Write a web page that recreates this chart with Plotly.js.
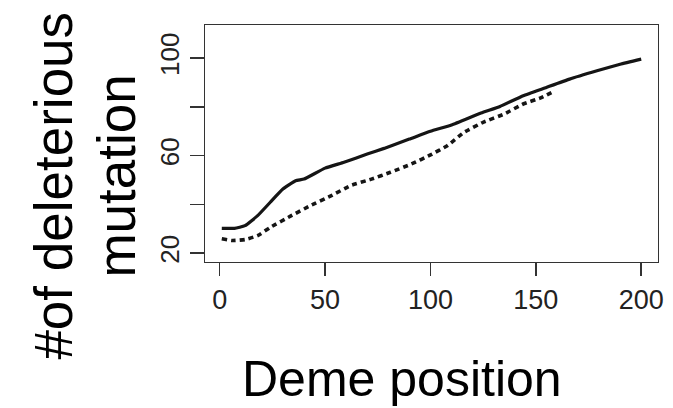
<!DOCTYPE html>
<html>
<head>
<meta charset="utf-8">
<script src="https://cdn.plot.ly/plotly-3.0.1.min.js"></script>
<style>html,body{margin:0;padding:0;background:#fff;}#chart{width:673px;height:408px;}</style>
</head>
<body>
<div id="chart"></div>
<script>
// Solid series: deme position vs mean # of deleterious mutations
var solidX = [1, 7, 12, 18, 24, 30, 36, 40, 50, 59, 70, 78, 90, 100, 110, 124, 133, 144, 155, 166, 179, 190, 200];
var solidY = [30.2, 30.2, 31.3, 35.4, 40.9, 46.3, 49.7, 50.4, 54.9, 57.3, 60.7, 63.0, 66.8, 70.0, 72.6, 77.5, 80.2, 84.6, 88.0, 91.4, 94.8, 97.5, 99.6];
// Dotted series
var dotX = [1, 6, 12, 18, 24, 34, 43, 53, 62, 72, 81, 91, 100, 108, 116, 125, 135, 144, 152, 159];
var dotY = [25.9, 25.2, 25.6, 27.2, 30.6, 35.4, 39.5, 43.6, 47.7, 50.4, 53.2, 56.6, 60.3, 64.1, 69.6, 73.7, 77.1, 81.2, 83.6, 86.6];
var xTicks = [0, 50, 100, 150, 200];
var yTicks = [20, 40, 60, 80, 100];
var yTickText = ["20", "", "60", "", "100"];
var xTitle = "Deme position";
var yTitle1 = "#of deleterious";
var yTitle2 = "mutation";

var font = "Liberation Sans, Arial, Helvetica, sans-serif";
var traces = [
  {x: solidX, y: solidY, mode: "lines", line: {color: "#151515", width: 3.2, shape: "spline", smoothing: 0.4}, hoverinfo: "skip"},
  {x: dotX, y: dotY, mode: "lines", line: {color: "#151515", width: 3.6, dash: "5px,4px", shape: "spline", smoothing: 0.4}, hoverinfo: "skip"}
];
var layout = {
  width: 673, height: 408,
  margin: {l: 205, r: 15, t: 25, b: 146},
  paper_bgcolor: "#fff", plot_bgcolor: "#fff",
  showlegend: false,
  font: {family: font, color: "#222"},
  xaxis: {
    range: [-6.96, 207.96], showgrid: false, zeroline: false,
    showline: true, mirror: true, linecolor: "#333", linewidth: 1.2,
    ticks: "outside", ticklen: 13, tickwidth: 1.5, tickcolor: "#333",
    tickvals: xTicks, ticktext: xTicks.map(String),
    tickfont: {size: 27, color: "#222", family: font}
  },
  yaxis: {
    range: [16.4, 113.6], showgrid: false, zeroline: false,
    showline: true, mirror: true, linecolor: "#333", linewidth: 1.2,
    ticks: "outside", ticklen: 14, tickwidth: 1.5, tickcolor: "#333",
    tickvals: yTicks, ticktext: yTickText, tickangle: -90,
    tickfont: {size: 26, color: "#222", family: font}
  },
  annotations: [
    {text: xTitle, xref: "paper", yref: "paper", x: 0.4338, y: -0.4937, xanchor: "center", yanchor: "middle", showarrow: false, font: {size: 50, color: "#000", family: font}},
    {text: yTitle1, xref: "paper", yref: "paper", x: -0.3342, y: 0.3207, xanchor: "center", yanchor: "middle", textangle: -90, showarrow: false, font: {size: 53, color: "#000", family: font}},
    {text: yTitle2, xref: "paper", yref: "paper", x: -0.1951, y: 0.3629, xanchor: "center", yanchor: "middle", textangle: -90, showarrow: false, font: {size: 53, color: "#000", family: font}}
  ]
};
Plotly.newPlot("chart", traces, layout, {staticPlot: true, displayModeBar: false});
</script>
</body>
</html>
